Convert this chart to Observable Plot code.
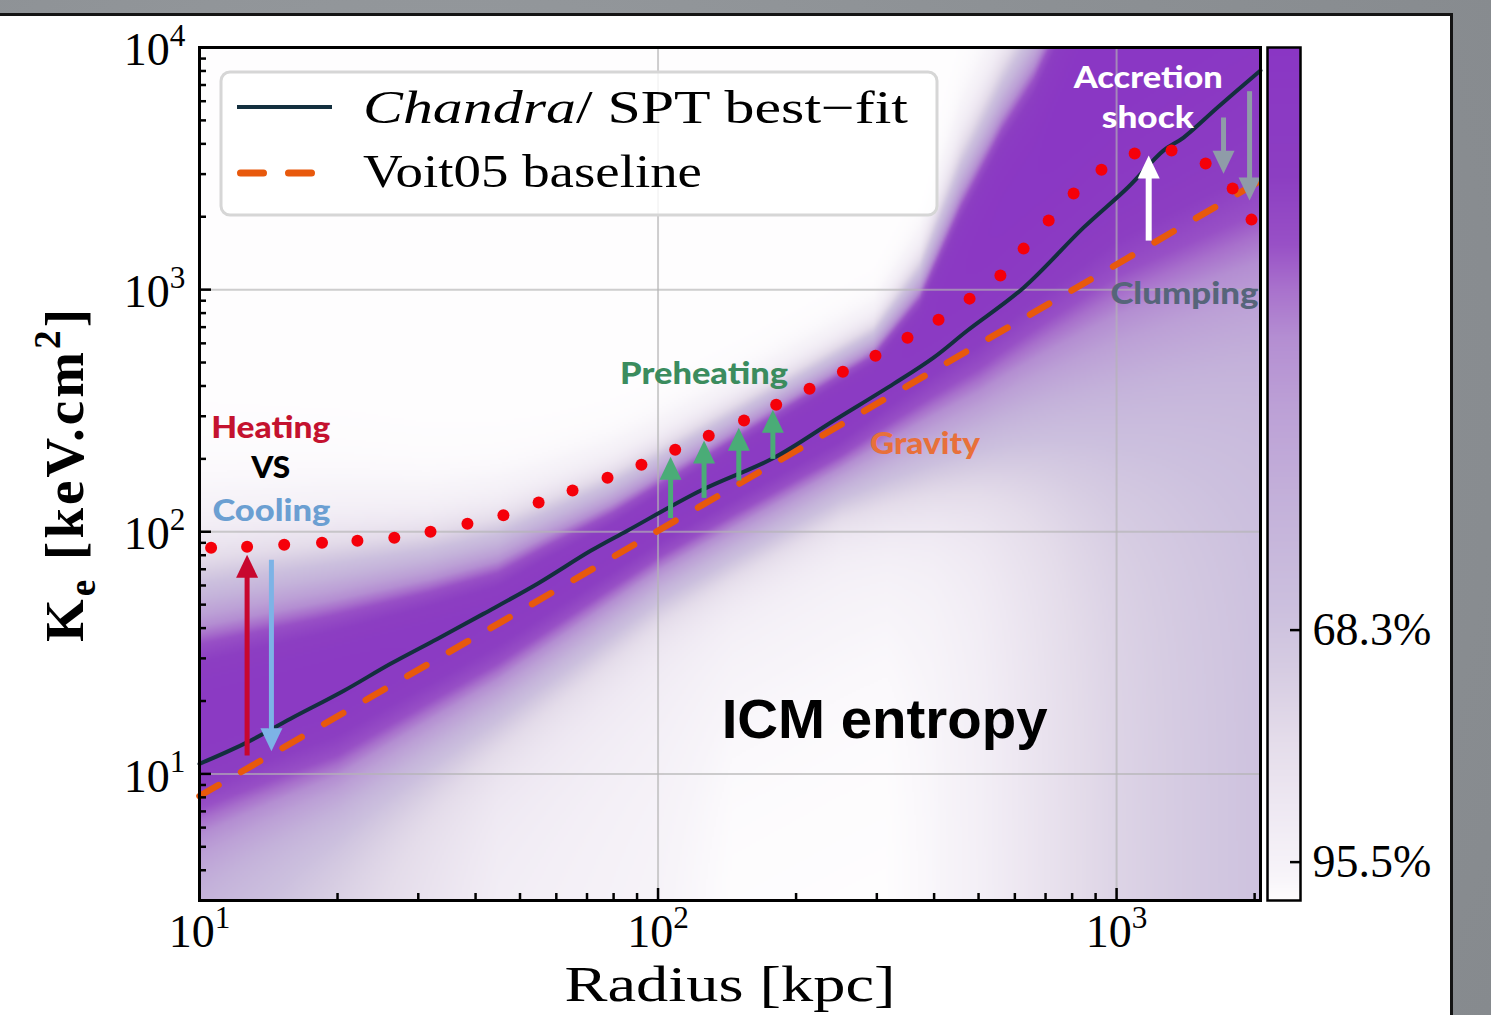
<!DOCTYPE html>
<html>
<head>
<meta charset="utf-8">
<script src="https://cdn.jsdelivr.net/npm/d3@7"></script>
<script src="https://cdn.jsdelivr.net/npm/@observablehq/plot@0.6"></script>
<style>
  html, body { margin: 0; padding: 0; background: #8e9296; }
  #wrap { position: relative; width: 1491px; height: 1015px; overflow: hidden;
          background: radial-gradient(circle at 30% 40%, #9a9ea2 0%, #8c9094 60%, #868a8e 100%); }
  #panel { position: absolute; left: -12px; top: 13px; width: 1465px; height: 1040px;
           background: #fff; border: 3px solid #141414; box-sizing: border-box; }
  #main { position: absolute; left: 0; top: 0; }
  #bar { position: absolute; left: 1240px; top: 0; }
  #legend { position: absolute; left: 219px; top: 70px; overflow: visible; }
</style>
</head>
<body>
<div id="wrap">
  <div id="panel"></div>
  <div id="main"></div>
  <div id="bar"></div>
  <svg id="legend" width="722" height="150">
    <rect x="2" y="2" width="716" height="143" rx="9" fill="#fff" fill-opacity="0.82" stroke="#d6d6d6" stroke-width="3"></rect>
    <line x1="18" x2="113" y1="37" y2="37" stroke="#132f3e" stroke-width="4"></line>
    <line x1="21.5" x2="92.5" y1="103" y2="103" stroke="#e8590c" stroke-width="7" stroke-dasharray="23 25" stroke-linecap="round"></line>
    <text x="144" y="53" font-family="Liberation Serif" font-size="46" textLength="545" lengthAdjust="spacingAndGlyphs"><tspan font-style="italic">Chandra</tspan>/ SPT best−fit</text>
    <text x="144" y="117" font-family="Liberation Serif" font-size="46" textLength="339" lengthAdjust="spacingAndGlyphs">Voit05 baseline</text>
  </svg>
</div>
<script>
// ---------------- data ----------------
const fitRadius  = [10, 12.5, 15.8, 20.6, 26.1, 33.0, 41.6, 54.6, 71.3, 85.7, 124, 179, 242, 327, 399, 473, 627, 847, 1057, 1265, 1400, 1660, 2060];
const fitEntropy = [11.0, 13.3, 16.9, 22.0, 28.5, 36.1, 45.8, 61.0, 83.4, 101, 148, 202, 288, 409, 524, 678, 1019, 1803, 2636, 3750, 4246, 5649, 8035];
const voitRadius  = [10, 20, 50, 100, 200, 500, 1000, 2060];
const voitEntropy = [8.1, 17.3, 47.0, 101, 216, 594, 1270, 2820];
const dotRadius  = [10.6, 12.7, 15.3, 18.5, 22.1, 26.6, 31.9, 38.4, 46.0, 54.9, 65.1, 77.6, 92.0, 109, 129, 154, 181, 214, 253, 298, 350, 409, 478, 558, 627, 711, 806, 927, 1095, 1318, 1564, 1791, 1969];
const dotEntropy = [85.9, 86.7, 88.4, 90.1, 91.8, 94.5, 100, 108, 117, 132, 148, 167, 189, 218, 249, 288, 335, 390, 458, 533, 633, 751, 918, 1143, 1477, 1928, 2493, 3130, 3646, 3753, 3317, 2614, 1946];
const arrowKind   = ["heating", "cooling", "preheat", "preheat", "preheat", "preheat", "shock", "clump", "clump"];
const arrowRadius = [12.7, 14.35, 106.5, 126, 150, 178, 1175, 1711, 1950];
const arrowFrom   = [11.9, 76.6, 114, 138, 163, 200, 1594, 5140, 6600];
const arrowTo     = [80.4, 12.4, 204, 238, 269, 319, 3583, 3013, 2333];
const noteText   = ["Accretion", "shock", "Clumping", "Preheating", "Gravity", "Heating", "VS", "Cooling", "ICM entropy"];
const noteRadius = [1172, 1170, 1406, 126, 382, 14.3, 14.3, 14.35, 312];
const noteK      = [7450, 5092, 962, 450, 231, 267, 183.6, 122, 16.7];
// density band of the profile ensemble (edges)
const bandUpperR    = [10, 20, 31.6, 44.7, 56.2, 79.4, 100, 158, 295, 372, 457, 562, 661, 1000, 2090];
const bandUpperK    = [50.1, 63.1, 74.1, 87.1, 107, 145, 186, 309, 617, 1096, 2818, 6026, 10000, 50000, 316000];
const bandUpperSoft = [0.13, 0.11, 0.09, 0.08, 0.07, 0.06, 0.055, 0.05, 0.045, 0.06, 0.09, 0.1, 0.11, 0.1, 0.1];
const bandLowerR    = [10, 20, 44.7, 100, 251, 501, 1000, 2090];
const bandLowerK    = [5.75, 8.9, 20.9, 60.3, 158, 302, 676, 1349];
const bandLowerSoft = [0.14, 0.12, 0.1, 0.08, 0.08, 0.15, 0.25, 0.3];
const floorR        = [10, 20, 44.7, 100, 145, 316, 398, 501, 631, 794, 1000, 1413, 2090];
const floorLevel    = [0.35, 0.2, 0.06, 0.03, 0.0, 0.0, 0.02, 0.06, 0.12, 0.18, 0.23, 0.28, 0.33];
const barPercent = [0, 15, 23, 28, 34, 42, 54, 66, 73, 81, 89, 97, 100];
const barColor   = ["#8a36c4", "#8c3ec2", "#9850c6", "#a870cc", "#b48ed2", "#bca0d6", "#c4b2da", "#ccc0de", "#d6cce2", "#e4dcea", "#eee8f2", "#f7f4f9", "#fefdfe"];
const barTicks   = [68.3, 95.5];
const xMajor = [10, 100, 1000];
const xMinor = [20, 30, 40, 50, 60, 70, 80, 90, 200, 300, 400, 500, 600, 700, 800, 900, 2000];
const yMajor = [10, 100, 1000, 10000];
const yMinor = [4, 5, 6, 7, 8, 9, 20, 30, 40, 50, 60, 70, 80, 90, 200, 300, 400, 500, 600, 700, 800, 900, 2000, 3000, 4000, 5000, 6000, 7000, 8000, 9000];
const xDomain = [10, 2060];
const yDomain = [3.0, 10000];

// ---------------- styles ----------------
const SERIF = "Liberation Serif";
const arrowStyle = {
  heating: {color: "#c8072e", width: 5},
  cooling: {color: "#7db3e6", width: 5},
  preheat: {color: "#4aac77", width: 5},
  shock:   {color: "#ffffff", width: 6},
  clump:   {color: "#8f9ca8", width: 5}
};
const noteStyle = [
  {fill: "#ffffff"}, {fill: "#ffffff"}, {fill: "#56657a"}, {fill: "#3b8c5e"}, {fill: "#e8703a"},
  {fill: "#c4122f"}, {fill: "#000000"}, {fill: "#6b9fd2"},
  {fill: "#000000", font: "Liberation Sans", size: 56, weight: "bold"}
];
const textWidths = {"Accretion": 149, "shock": 92, "Clumping": 148, "Preheating": 168, "Gravity": 110,
  "Heating": 119, "VS": 39, "Cooling": 118, "ICM entropy": 326, "Radius [kpc]": 331};

// ---------------- derived tables ----------------
const fit = fitRadius.map((r, i) => ({r, K: fitEntropy[i]}));
const voit = voitRadius.map((r, i) => ({r, K: voitEntropy[i]}));
const dots = dotRadius.map((r, i) => ({r, K: dotEntropy[i]}));
const arrows = arrowKind.map((kind, i) => ({kind, r: arrowRadius[i], from: arrowFrom[i], to: arrowTo[i]}));
const notes = noteText.map((text, i) => ({text, r: noteRadius[i], K: noteK[i]}));

const L = Math.log10;
const interpLog = (rs, vs) => d3.scaleLinear().domain(rs.map(L)).range(vs).clamp(true);
const upperEdge = interpLog(bandUpperR, bandUpperK.map(L));
const upperSoft = interpLog(bandUpperR, bandUpperSoft);
const lowerEdge = interpLog(bandLowerR, bandLowerK.map(L));
const lowerSoft = interpLog(bandLowerR, bandLowerSoft);
const floorAt = interpLog(floorR, floorLevel);
const sig = t => 1 / (1 + Math.exp(-t));
function density(r, K) {
  const u = L(r), w = L(K);
  const up = sig((upperEdge(u) - w) / upperSoft(u));
  const t = w - lowerEdge(u);
  const lo = 0.8 * sig(t / lowerSoft(u)) + 0.2 * sig(t / 0.35);
  const f = floorAt(u);
  return up * (f + (1 - f) * lo);
}

const headUp = {draw(ctx) { ctx.moveTo(0, 0); ctx.lineTo(11, 23); ctx.lineTo(-11, 23); ctx.closePath(); }};
const headDown = {draw(ctx) { ctx.moveTo(0, 0); ctx.lineTo(11, -23); ctx.lineTo(-11, -23); ctx.closePath(); }};

const W = 1491, H = 1015, mL = 199, mR = 231, mT = 47, mB = 115;
const frameW = W - mL - mR, frameH = H - mT - mB;
const logLabel = d => "10^" + Math.round(Math.log10(d));

const marks = [
  Plot.raster({fill: density, x1: xDomain[0], x2: xDomain[1], y1: yDomain[0], y2: yDomain[1], pixelSize: 2, imageRendering: "auto"}),
  Plot.ruleX([100, 1000], {stroke: "#b4b4b4", strokeOpacity: 0.65, strokeWidth: 2}),
  Plot.ruleY([10, 100, 1000], {stroke: "#b4b4b4", strokeOpacity: 0.65, strokeWidth: 2}),
  Plot.line(voit, {x: "r", y: "K", stroke: "#e8590c", strokeWidth: 6.5, strokeDasharray: "22 26", strokeLinecap: "round"}),
  Plot.line(fit, {x: "r", y: "K", stroke: "#132f3e", strokeWidth: 4, curve: "catmull-rom"}),
  Plot.dot(dots, {x: "r", y: "K", r: 6, fill: "#f5000a", stroke: "none"})
];
for (const kind of Object.keys(arrowStyle)) {
  const sub = arrows.filter(d => d.kind === kind);
  const st = arrowStyle[kind];
  marks.push(Plot.arrow(sub, {x1: "r", x2: "r", y1: "from", y2: "to", headLength: 0, insetEnd: 18,
    stroke: st.color, strokeWidth: st.width, strokeLinecap: "butt"}));
  marks.push(Plot.dot(sub.filter(d => d.to > d.from), {x: "r", y: "to", symbol: headUp, fill: st.color, stroke: "none"}));
  marks.push(Plot.dot(sub.filter(d => d.to < d.from), {x: "r", y: "to", symbol: headDown, fill: st.color, stroke: "none"}));
}
notes.forEach((n, i) => {
  const st = noteStyle[i];
  marks.push(Plot.text([n], {x: "r", y: "K", text: "text", fill: st.fill,
    fontFamily: st.font || "Lato", fontWeight: st.weight || 900, fontSize: st.size || 31}));
});
marks.push(
  Plot.tickX(xMinor, {x: d => d, insetTop: frameH - 7, stroke: "black", strokeWidth: 2.5}),
  Plot.tickX(xMajor, {x: d => d, insetTop: frameH - 12, stroke: "black", strokeWidth: 2.5}),
  Plot.tickY(yMinor, {y: d => d, insetRight: frameW - 7, stroke: "black", strokeWidth: 2.5}),
  Plot.tickY(yMajor, {y: d => d, insetRight: frameW - 12, stroke: "black", strokeWidth: 2.5}),
  Plot.axisX({ticks: xMajor, tickFormat: logLabel, tickSize: 0, tickPadding: 14, fontSize: 46, fontFamily: SERIF, label: null}),
  Plot.axisY({ticks: yMajor, tickFormat: logLabel, tickSize: 0, tickPadding: 14, dy: 3, fontSize: 46, fontFamily: SERIF, label: null}),
  Plot.text(["Radius [kpc]"], {text: d => d, frameAnchor: "bottom", dy: 100, fontSize: 50, fontFamily: SERIF}),
  Plot.text(["K_e [keV.cm^2]"], {text: d => d, frameAnchor: "left", textAnchor: "middle", dx: -134, rotate: -90, fontSize: 55, fontWeight: "bold", fontFamily: SERIF}),
  Plot.frame({stroke: "black", strokeWidth: 3})
);

const main = Plot.plot({
  width: W, height: H, marginLeft: mL, marginRight: mR, marginTop: mT, marginBottom: mB,
  style: {background: "transparent", fontFamily: SERIF, overflow: "visible"},
  x: {type: "log", domain: xDomain},
  y: {type: "log", domain: yDomain},
  color: {type: "linear", domain: barPercent.map(p => 1 - p / 100).reverse(), range: barColor.slice().reverse(), interpolate: "rgb", clamp: true},
  marks
});

const bar = Plot.plot({
  width: 251, height: H, marginLeft: 27, marginRight: 191, marginTop: mT, marginBottom: mB,
  style: {background: "transparent", fontFamily: SERIF, overflow: "visible"},
  x: {domain: [0, 1], axis: null},
  y: {domain: [100, 0]},
  color: {type: "linear", domain: barPercent, range: barColor, interpolate: "rgb"},
  marks: [
    Plot.raster({fill: (x, y) => y, x1: 0, x2: 1, y1: 0, y2: 100, pixelSize: 1}),
    Plot.tickY(barTicks, {y: d => d, insetLeft: 33 - 10, stroke: "black", strokeWidth: 2.5}),
    Plot.axisY({anchor: "right", ticks: barTicks, tickFormat: d => d + "%", tickSize: 0, tickPadding: 12, fontSize: 46, fontFamily: SERIF, label: null}),
    Plot.frame({stroke: "black", strokeWidth: 2.5})
  ]
});

const NS = "http://www.w3.org/2000/svg";
function rich(el, fs) {
  const s = el.textContent;
  if (!/[\^_]/.test(s)) return false;
  el.textContent = "";
  const re = /([\^_])(\w)|([^\^_]+)/g;
  let m, shift = 0;
  while ((m = re.exec(s))) {
    const t = document.createElementNS(NS, "tspan");
    if (m[3]) {
      t.textContent = m[3];
      if (shift) { t.setAttribute("dy", -shift); shift = 0; }
    } else {
      const d = m[1] === "^" ? -0.42 * fs : 0.22 * fs;
      t.textContent = m[2];
      t.setAttribute("font-size", 0.68 * fs);
      t.setAttribute("dy", d - shift);
      shift = d;
    }
    el.appendChild(t);
  }
  return true;
}
for (const svg of [main, bar]) {
  svg.querySelectorAll("text").forEach(el => {
    const s = el.textContent;
    if (textWidths[s]) { el.setAttribute("textLength", textWidths[s]); el.setAttribute("lengthAdjust", "spacingAndGlyphs"); }
    if (s.startsWith("K_")) { el.setAttribute("letter-spacing", "3"); el.setAttribute("text-anchor", "middle"); }
    rich(el, s.startsWith("K_") ? 55 : 46);
  });
}
document.getElementById("main").appendChild(main);
document.getElementById("bar").appendChild(bar);
</script>
</body>
</html>
